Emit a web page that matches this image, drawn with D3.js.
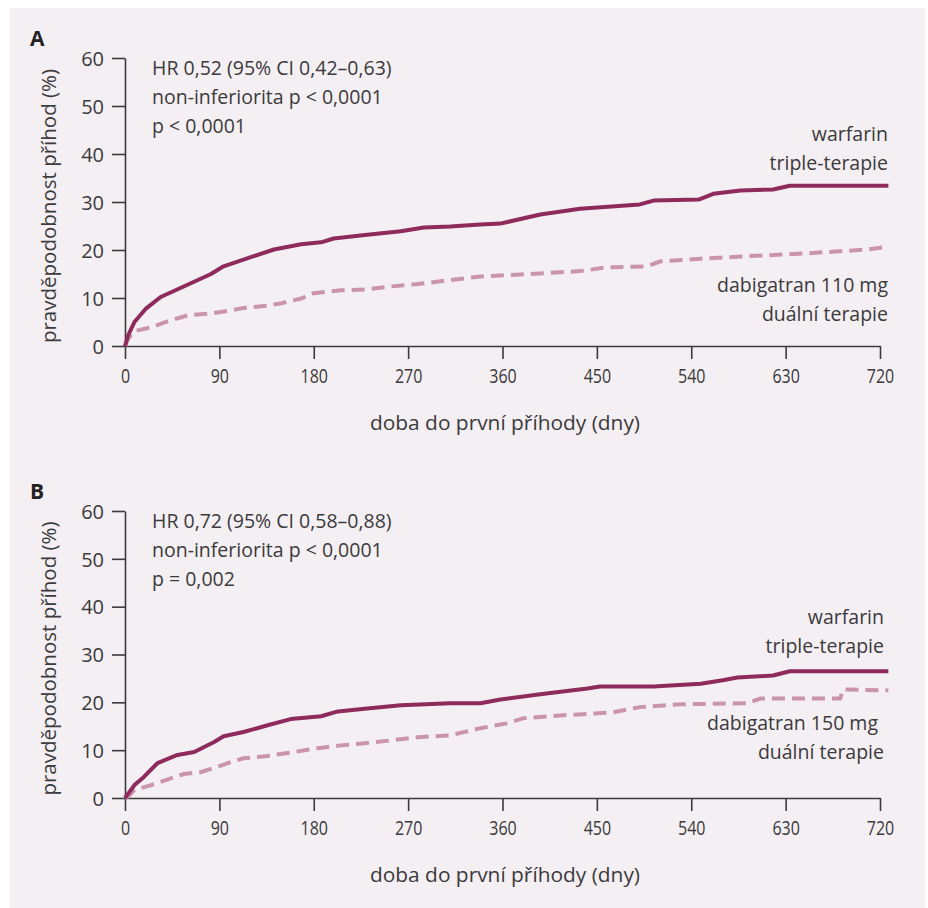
<!DOCTYPE html>
<html><head><meta charset="utf-8">
<script src="https://cdn.jsdelivr.net/npm/d3@7"></script>
<style>
html,body{margin:0;padding:0;background:#fff;}
svg{display:block;}
text{font-family:"Open Sans",sans-serif;fill:#3b3a3c;}
</style></head>
<body>
<svg id="chart" width="928" height="908"></svg>
<script>
// ---- data ----
const xTicks = [0, 90, 180, 270, 360, 450, 540, 630, 720];
const yTicks = [0, 10, 20, 30, 40, 50, 60];

const daysA_warfarin = [0, 3, 9, 20, 34, 56, 82, 94, 120, 142, 168, 187, 199, 231, 263, 285, 310, 339, 358, 396, 434, 491, 504, 547, 561, 587, 618, 634, 728];
const valsA_warfarin = [0, 2.2, 5, 7.8, 10.2, 12.4, 15, 16.6, 18.5, 20.1, 21.2, 21.6, 22.4, 23.2, 23.9, 24.7, 24.9, 25.3, 25.5, 27.4, 28.6, 29.5, 30.3, 30.5, 31.7, 32.4, 32.6, 33.4, 33.4];

const daysA_dabi = [0, 3, 9, 25, 41, 60, 82, 98, 113, 136, 149, 168, 180, 206, 231, 253, 279, 294, 339, 377, 434, 460, 498, 510, 549, 593, 650, 708, 728];
const valsA_dabi = [0, 1.5, 3.1, 3.9, 5.2, 6.4, 6.8, 7.3, 7.9, 8.4, 8.9, 9.9, 11, 11.6, 11.8, 12.4, 12.9, 13.3, 14.5, 14.9, 15.6, 16.4, 16.6, 17.6, 18.2, 18.7, 19.3, 20.1, 20.7];

const daysB_warfarin = [0, 9, 18, 31, 50, 66, 85, 94, 113, 136, 158, 187, 203, 231, 263, 310, 339, 358, 396, 441, 453, 504, 549, 570, 584, 618, 634, 728];
const valsB_warfarin = [0, 2.7, 4.4, 7.3, 9, 9.6, 11.7, 12.9, 13.8, 15.2, 16.5, 17.1, 18.1, 18.7, 19.4, 19.8, 19.8, 20.6, 21.7, 22.9, 23.3, 23.3, 23.9, 24.6, 25.2, 25.6, 26.5, 26.5];

const daysB_dabi = [0, 3, 9, 25, 41, 56, 72, 88, 98, 113, 136, 155, 184, 206, 231, 256, 279, 310, 339, 364, 380, 418, 465, 491, 530, 593, 606, 682, 685, 728];
const valsB_dabi = [0, 0.3, 1.7, 2.7, 3.9, 5, 5.4, 6.5, 7.3, 8.3, 8.8, 9.4, 10.4, 11, 11.5, 12.1, 12.7, 13.1, 14.6, 15.6, 16.7, 17.3, 17.9, 19, 19.6, 19.8, 20.8, 20.8, 22.7, 22.5];

const panelLabels = ["A", "B"];
const statsA = ["HR 0,52 (95% CI 0,42–0,63)", "non-inferiorita p < 0,0001", "p < 0,0001"];
const statsB = ["HR 0,72 (95% CI 0,58–0,88)", "non-inferiorita p < 0,0001", "p = 0,002"];
const warfLabel = ["warfarin", "triple-terapie"];
const dabiLabelA = ["dabigatran 110 mg", "duální terapie"];
const dabiLabelB = ["dabigatran 150 mg", "duální terapie"];
const yTitle = "pravděpodobnost příhod (%)";
const xTitle = "doba do první příhody (dny)";

// ---- drawing ----
const svg = d3.select("#chart");
svg.append("rect").attr("x", 10).attr("y", 8).attr("width", 915).attr("height", 900).attr("fill", "#f4eff2");

const solidColor = "#8e2b5c";
const dashColor = "#cb94ad";
const axisColor = "#3b3a3c";

const panels = [
  {label: panelLabels[0], top: 58, bottom: 346, stats: statsA, warf: [daysA_warfarin, valsA_warfarin], dabi: [daysA_dabi, valsA_dabi], warfText: warfLabel, dabiText: dabiLabelA, warfY: 141, dabiY: 292, dabiRight: 888, warfRight: 888},
  {label: panelLabels[1], top: 511, bottom: 798, stats: statsB, warf: [daysB_warfarin, valsB_warfarin], dabi: [daysB_dabi, valsB_dabi], warfText: warfLabel, dabiText: dabiLabelB, warfY: 624, dabiY: 730, dabiRight: 884, warfRight: 884}
];

const x = d3.scaleLinear().domain([0, 720]).range([125, 880]);

panels.forEach(p => {
  const y = d3.scaleLinear().domain([0, 60]).range([p.bottom, p.top]);
  const g = svg.append("g");

  // panel letter
  g.append("text").attr("x", 30).attr("y", p.top - 12).attr("font-weight", "bold").attr("font-size", 21).style("fill", "#222").text(p.label);

  // y axis
  const ya = g.append("g").attr("transform", `translate(125,0)`)
    .call(d3.axisLeft(y).tickValues(yTicks).tickSize(13).tickSizeOuter(0).tickPadding(8));
  ya.select(".domain").attr("stroke", axisColor).attr("stroke-width", 1.6);
  ya.selectAll(".tick line").attr("stroke", axisColor).attr("stroke-width", 1.6);
  ya.selectAll(".tick text").attr("font-size", 20).attr("font-family", "Open Sans").style("fill", "#3b3a3c").attr("dy", "0.36em");

  // x axis
  const xa = g.append("g").attr("transform", `translate(0,${p.bottom})`)
    .call(d3.axisBottom(x).tickValues(xTicks).tickSize(13).tickSizeOuter(0).tickPadding(10));
  xa.select(".domain").attr("stroke", axisColor).attr("stroke-width", 1.6);
  xa.selectAll(".tick line").attr("stroke", axisColor).attr("stroke-width", 1.6);
  xa.selectAll(".tick text").attr("font-size", 20).attr("font-family", "Open Sans").style("fill", "#3b3a3c")
    .attr("transform", "scale(0.8,1)");

  // axis titles
  g.append("text").attr("x", 505).attr("y", p.bottom + 84).attr("text-anchor", "middle")
    .attr("font-size", 20).attr("textLength", 270).attr("lengthAdjust", "spacingAndGlyphs").text(xTitle);
  g.append("text").attr("transform", `translate(56,${(p.top + p.bottom) / 2 + 4}) rotate(-90)`)
    .attr("text-anchor", "middle").attr("font-size", 20.5).text(yTitle);

  // stats
  p.stats.forEach((s, i) => {
    g.append("text").attr("x", 152).attr("y", p.top + 17 + i * 29).attr("font-size", 19.5).text(s);
  });

  // curves
  const line = d3.line().x(d => x(d[0])).y(d => y(d[1]));
  const dabiData = p.dabi[0].map((d, i) => [d, p.dabi[1][i]]);
  const warfData = p.warf[0].map((d, i) => [d, p.warf[1][i]]);
  g.append("path").datum(dabiData).attr("d", line).attr("fill", "none")
    .attr("stroke", dashColor).attr("stroke-width", 4).attr("stroke-dasharray", "13,7");
  g.append("path").datum(warfData).attr("d", line).attr("fill", "none")
    .attr("stroke", solidColor).attr("stroke-width", 4).attr("stroke-linejoin", "round");

  // series labels
  p.warfText.forEach((s, i) => {
    g.append("text").attr("x", p.warfRight).attr("y", p.warfY + i * 29).attr("text-anchor", "end").attr("font-size", 19.5).text(s);
  });
  p.dabiText.forEach((s, i) => {
    g.append("text").attr("x", i === 0 ? p.dabiRight - (p.label === "B" ? 6 : 0) : p.dabiRight).attr("y", p.dabiY + i * 29).attr("text-anchor", "end").attr("font-size", 19.5).text(s);
  });
});
</script>
</body></html>
